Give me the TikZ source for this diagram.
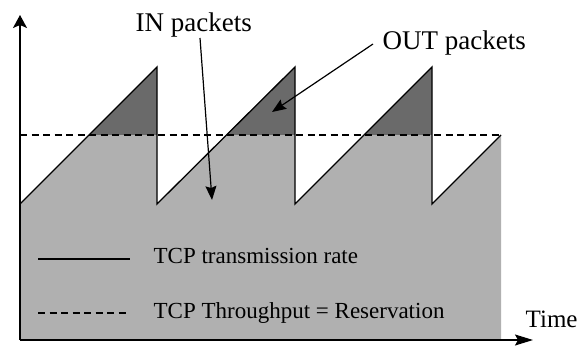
\documentclass[tikz,border=0pt]{standalone}
\usepackage{fontspec}
\setmainfont{Liberation Serif}
\usepackage{tikz}
\usetikzlibrary{arrows.meta}
\definecolor{inGray}{RGB}{176,176,176}
\definecolor{outGray}{RGB}{106,106,106}

\begin{document}
\begin{tikzpicture}[x=1pt, y=1pt, line width=1.3pt,
  lbl/.style={inner sep=0pt, anchor=base west, font=\fontsize{27}{30}\selectfont},
  leg/.style={inner sep=0pt, anchor=base west, font=\fontsize{23}{26}\selectfont},
  resv/.style={dash pattern=on 7pt off 4.5pt},
  ptr/.style={line width=1.2pt, -{Stealth[length=14pt,width=11pt,inset=2pt]}}]
\useasboundingbox (0,0) rectangle (581,346);
\fill[inGray] (20,6) -- (20,142) -- (89,211) -- (157,211) -- (157,142) -- (226,211) -- (295,211) -- (295,142) -- (364,211) -- (432,211) -- (432,142) -- (501,211) -- (501,6) -- cycle;
\fill[outGray] (89,211) -- (157,279) -- (157,211) -- cycle;
\fill[outGray] (226,211) -- (295,279) -- (295,211) -- cycle;
\fill[outGray] (364,211) -- (432,279) -- (432,211) -- cycle;
\draw[resv] (20,211) -- (501,211);
\draw (20,142) -- (157,279) -- (157,142) -- (295,279) -- (295,142) -- (432,279) -- (432,142) -- (501,211);
\coordinate (orig) at (20,6);
\coordinate (yTop) at (20,331);
\coordinate (xEnd) at (533,6);
\draw[-{Stealth[length=13pt,width=14pt,inset=3pt]}] (orig) -- (yTop);
\draw[-{Stealth[length=18pt,width=11pt,inset=3pt]}] (orig) -- (xEnd);
\node[lbl] (time) at (525,19) {\fontsize{25}{28}\selectfont Time};
\node[lbl] (inLbl) at (135,314) {IN packets};
\node[lbl] (outLbl) at (382,296) {OUT packets};
\coordinate (inTail) at (200,308);
\coordinate (inTip) at (212,146);
\coordinate (outTail) at (373,302);
\coordinate (outTip) at (272,234);
\draw[ptr] (inTail) -- (inTip);
\draw[ptr] (outTail) -- (outTip);
\coordinate (legA) at (38,87);
\coordinate (legB) at (130,87);
\coordinate (legC) at (38,33);
\coordinate (legD) at (130,33);
\draw (legA) -- (legB);
\draw[resv] (legC) -- (legD);
\node[leg] (rateTxt) at (153,83) {TCP transmission rate};
\node[leg] (resvTxt) at (153,28) {TCP Throughput = Reservation};
\end{tikzpicture}
\end{document}
